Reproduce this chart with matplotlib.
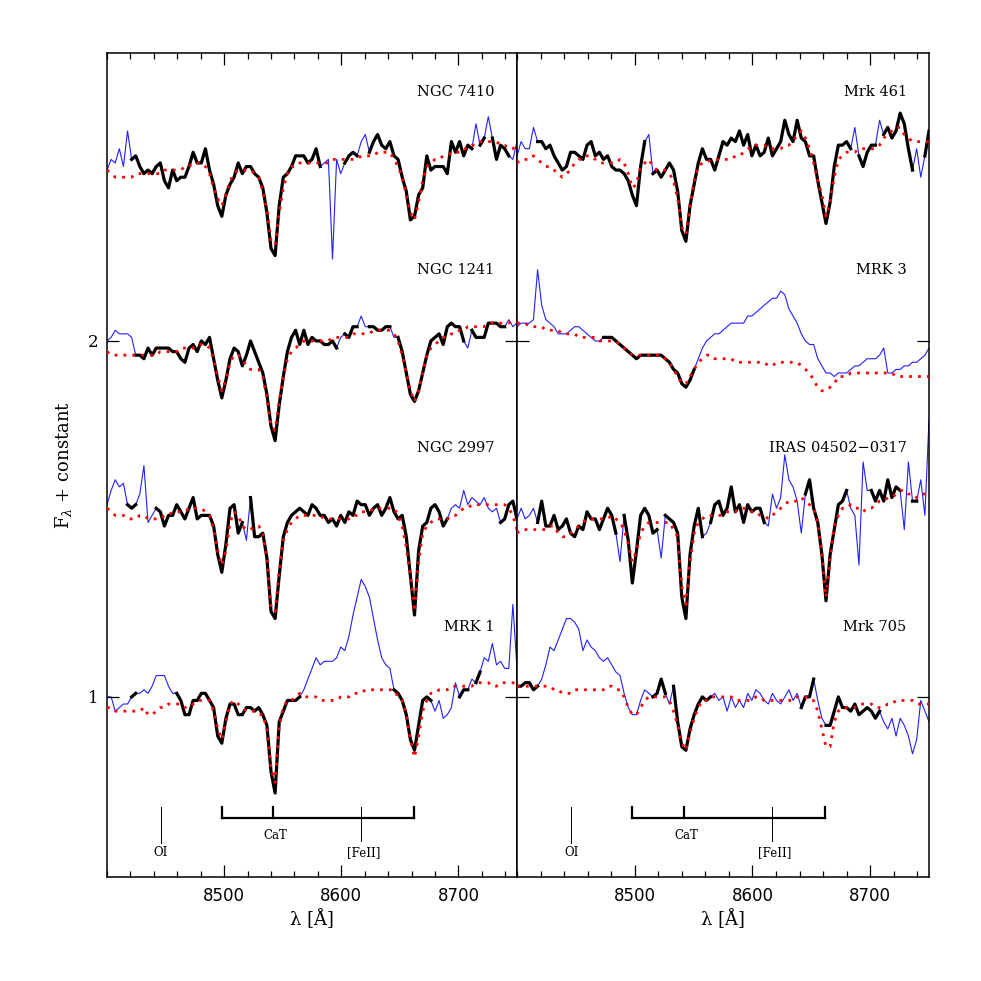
import numpy as np
import matplotlib
matplotlib.use("Agg")
import matplotlib.pyplot as plt
from matplotlib.ticker import MultipleLocator, FixedLocator

plt.rcParams['mathtext.fontset'] = 'dejavuserif'

# common wavelength grid (Angstrom)
wave = np.arange(8400, 8751, 3.5)

# ---- left column ----
ngc7410_obs = np.array([
    2.48, 2.51, 2.50, 2.54, 2.49, 2.59, 2.51, 2.52, 2.49, 2.47,
    2.48, 2.47, 2.49, 2.50, 2.45, 2.43, 2.48, 2.45, 2.46, 2.46,
    2.49, 2.53, 2.50, 2.50, 2.54, 2.48, 2.44, 2.38, 2.35, 2.41,
    2.44, 2.46, 2.50, 2.47, 2.49, 2.49, 2.47, 2.46, 2.43, 2.36,
    2.26, 2.24, 2.38, 2.46, 2.47, 2.49, 2.52, 2.52, 2.52, 2.50,
    2.51, 2.54, 2.49, 2.50, 2.51, 2.23, 2.51, 2.47, 2.50, 2.52,
    2.53, 2.52, 2.56, 2.58, 2.53, 2.56, 2.58, 2.55, 2.54, 2.56,
    2.52, 2.51, 2.46, 2.42, 2.34, 2.35, 2.41, 2.43, 2.52, 2.48,
    2.49, 2.49, 2.49, 2.47, 2.56, 2.53, 2.56, 2.52, 2.55, 2.54,
    2.61, 2.55, 2.57, 2.63, 2.57, 2.51, 2.55, 2.54, 2.52, 2.51,
    2.56])
ngc7410_fit = np.array([
    2.48, 2.47, 2.46, 2.46, 2.46, 2.46, 2.46, 2.47, 2.47, 2.47,
    2.47, 2.47, 2.47, 2.47, 2.48, 2.48, 2.48, 2.48, 2.48, 2.49,
    2.49, 2.50, 2.50, 2.50, 2.49, 2.47, 2.43, 2.40, 2.38, 2.41,
    2.45, 2.47, 2.48, 2.48, 2.48, 2.48, 2.47, 2.46, 2.42, 2.37,
    2.28, 2.27, 2.36, 2.43, 2.47, 2.49, 2.49, 2.50, 2.50, 2.50,
    2.50, 2.50, 2.50, 2.50, 2.50, 2.51, 2.51, 2.51, 2.51, 2.51,
    2.51, 2.51, 2.52, 2.52, 2.52, 2.52, 2.53, 2.53, 2.53, 2.53,
    2.51, 2.49, 2.46, 2.41, 2.36, 2.34, 2.39, 2.45, 2.49, 2.50,
    2.51, 2.51, 2.52, 2.52, 2.53, 2.53, 2.53, 2.54, 2.54, 2.55,
    2.55, 2.56, 2.56, 2.56, 2.56, 2.56, 2.55, 2.55, 2.54, 2.54,
    2.55])
ngc7410_gaps = [(8400, 8418), (8583, 8602), (8615, 8623), (8713, 8717), (8724, 8727), (8745, 8750)]

ngc1241_obs = np.array([
    2.00, 2.01, 2.03, 2.02, 2.02, 2.02, 2.01, 1.96, 1.96, 1.95,
    1.98, 1.96, 1.98, 1.98, 1.98, 1.98, 1.97, 1.97, 1.95, 1.94,
    1.98, 1.99, 1.97, 2.00, 1.99, 2.01, 1.95, 1.89, 1.84, 1.89,
    1.95, 1.98, 1.97, 1.93, 1.96, 2.00, 1.97, 1.94, 1.91, 1.85,
    1.76, 1.72, 1.82, 1.90, 1.97, 2.01, 2.03, 1.99, 2.03, 1.99,
    2.01, 2.00, 2.00, 1.99, 1.99, 2.00, 1.98, 2.01, 2.02, 2.01,
    2.04, 2.04, 2.07, 2.04, 2.04, 2.04, 2.03, 2.03, 2.04, 2.04,
    2.01, 2.01, 1.97, 1.91, 1.85, 1.83, 1.86, 1.91, 1.96, 2.00,
    2.01, 2.02, 1.99, 2.04, 2.05, 2.04, 2.04, 2.00, 1.98, 2.03,
    2.01, 2.01, 2.01, 2.05, 2.05, 2.05, 2.04, 2.04, 2.06, 2.04,
    2.05])
ngc1241_fit = np.array([
    1.97, 1.96, 1.96, 1.96, 1.96, 1.96, 1.96, 1.96, 1.96, 1.96,
    1.96, 1.96, 1.96, 1.97, 1.97, 1.97, 1.97, 1.97, 1.98, 1.98,
    1.98, 1.98, 1.99, 1.99, 1.99, 1.98, 1.95, 1.90, 1.86, 1.89,
    1.94, 1.96, 1.96, 1.95, 1.93, 1.92, 1.92, 1.92, 1.90, 1.84,
    1.76, 1.75, 1.83, 1.90, 1.95, 1.97, 1.98, 1.99, 2.00, 2.00,
    2.00, 2.00, 2.00, 2.00, 2.00, 2.01, 2.01, 2.01, 2.01, 2.01,
    2.02, 2.02, 2.02, 2.02, 2.02, 2.03, 2.03, 2.03, 2.03, 2.03,
    2.02, 2.00, 1.96, 1.91, 1.86, 1.83, 1.86, 1.91, 1.96, 1.98,
    1.99, 2.00, 2.01, 2.01, 2.02, 2.02, 2.03, 2.03, 2.04, 2.04,
    2.04, 2.04, 2.04, 2.05, 2.05, 2.05, 2.05, 2.05, 2.05, 2.06,
    2.06])
ngc1241_gaps = [(8400, 8422), (8598, 8601), (8615, 8622), (8644, 8648), (8707, 8709), (8740, 8750)]

ngc2997_obs = np.array([
    1.54, 1.58, 1.61, 1.59, 1.60, 1.54, 1.53, 1.54, 1.57, 1.65,
    1.49, 1.51, 1.53, 1.52, 1.48, 1.51, 1.51, 1.54, 1.52, 1.50,
    1.53, 1.56, 1.50, 1.51, 1.51, 1.51, 1.48, 1.40, 1.35, 1.43,
    1.53, 1.54, 1.46, 1.49, 1.44, 1.56, 1.45, 1.45, 1.46, 1.39,
    1.24, 1.22, 1.34, 1.45, 1.49, 1.51, 1.52, 1.53, 1.52, 1.51,
    1.54, 1.53, 1.51, 1.51, 1.49, 1.50, 1.48, 1.51, 1.49, 1.52,
    1.51, 1.55, 1.54, 1.54, 1.51, 1.53, 1.54, 1.51, 1.53, 1.56,
    1.52, 1.50, 1.51, 1.45, 1.34, 1.23, 1.41, 1.48, 1.49, 1.53,
    1.54, 1.52, 1.48, 1.50, 1.53, 1.54, 1.53, 1.58, 1.54, 1.56,
    1.55, 1.54, 1.56, 1.53, 1.52, 1.53, 1.49, 1.50, 1.54, 1.55,
    1.50])
ngc2997_fit = np.array([
    1.53, 1.52, 1.51, 1.51, 1.51, 1.50, 1.50, 1.50, 1.51, 1.51,
    1.50, 1.50, 1.50, 1.50, 1.51, 1.51, 1.52, 1.52, 1.52, 1.52,
    1.53, 1.53, 1.53, 1.53, 1.52, 1.51, 1.47, 1.41, 1.37, 1.41,
    1.49, 1.52, 1.51, 1.48, 1.47, 1.47, 1.48, 1.48, 1.46, 1.39,
    1.25, 1.24, 1.35, 1.44, 1.47, 1.49, 1.50, 1.51, 1.51, 1.51,
    1.51, 1.51, 1.51, 1.50, 1.50, 1.50, 1.50, 1.50, 1.50, 1.50,
    1.51, 1.51, 1.52, 1.52, 1.52, 1.53, 1.53, 1.53, 1.53, 1.53,
    1.53, 1.51, 1.48, 1.42, 1.34, 1.24, 1.38, 1.46, 1.48, 1.49,
    1.50, 1.50, 1.50, 1.50, 1.51, 1.51, 1.52, 1.53, 1.53, 1.54,
    1.54, 1.54, 1.54, 1.54, 1.54, 1.54, 1.54, 1.54, 1.53, 1.51,
    1.47])
ngc2997_gaps = [(8400, 8416), (8426, 8439), (8518, 8520), (8694, 8735)]

mrk1_obs = np.array([
    1.00, 1.00, 0.96, 0.97, 0.98, 0.98, 1.00, 1.01, 1.01, 1.02,
    1.01, 1.03, 1.06, 1.06, 1.06, 1.03, 1.01, 1.01, 0.99, 0.95,
    0.95, 0.99, 0.99, 1.01, 1.01, 0.99, 0.97, 0.89, 0.87, 0.94,
    0.98, 0.98, 0.95, 0.95, 0.97, 0.97, 0.96, 0.97, 0.95, 0.92,
    0.79, 0.73, 0.93, 0.96, 0.99, 0.99, 0.99, 1.00, 1.02, 1.05,
    1.08, 1.11, 1.09, 1.10, 1.10, 1.10, 1.11, 1.14, 1.13, 1.17,
    1.23, 1.28, 1.33, 1.31, 1.28, 1.22, 1.16, 1.11, 1.09, 1.08,
    1.02, 1.01, 0.99, 0.95, 0.88, 0.85, 0.92, 0.99, 1.00, 0.99,
    0.96, 0.99, 0.94, 0.95, 0.97, 1.04, 1.00, 1.02, 1.02, 1.05,
    1.04, 1.07, 1.11, 1.10, 1.15, 1.09, 1.10, 1.08, 1.08, 1.26,
    1.08])
mrk1_fit = np.array([
    0.97, 0.97, 0.96, 0.96, 0.96, 0.96, 0.96, 0.96, 0.96, 0.97,
    0.95, 0.95, 0.96, 0.97, 0.97, 0.98, 0.98, 0.98, 0.98, 0.97,
    0.97, 0.98, 0.99, 0.99, 0.99, 0.99, 0.96, 0.91, 0.88, 0.93,
    0.98, 0.99, 0.98, 0.97, 0.96, 0.96, 0.96, 0.95, 0.95, 0.91,
    0.80, 0.76, 0.92, 0.97, 0.99, 0.99, 1.00, 1.01, 1.00, 1.00,
    1.00, 1.00, 0.99, 0.99, 0.99, 0.99, 0.99, 1.00, 1.00, 1.00,
    1.01, 1.01, 1.01, 1.02, 1.02, 1.02, 1.02, 1.02, 1.02, 1.02,
    1.02, 1.00, 0.99, 0.95, 0.88, 0.83, 0.89, 0.96, 0.99, 1.01,
    1.01, 1.02, 1.02, 1.02, 1.03, 1.03, 1.03, 1.03, 1.03, 1.03,
    1.04, 1.04, 1.04, 1.04, 1.03, 1.03, 1.04, 1.04, 1.04, 1.04,
    1.03])
mrk1_gaps = [(8400, 8420), (8428, 8458), (8565, 8643), (8679, 8700.5), (8709, 8714), (8720, 8750)]

# ---- right column ----
mrk461_obs = np.array([
    2.52, 2.56, 2.54, 2.54, 2.60, 2.56, 2.56, 2.54, 2.55, 2.52,
    2.50, 2.48, 2.49, 2.53, 2.53, 2.52, 2.51, 2.55, 2.56, 2.52,
    2.53, 2.51, 2.52, 2.49, 2.48, 2.48, 2.47, 2.45, 2.41, 2.38,
    2.49, 2.56, 2.58, 2.47, 2.48, 2.46, 2.48, 2.50, 2.48, 2.42,
    2.31, 2.28, 2.38, 2.44, 2.50, 2.54, 2.51, 2.51, 2.48, 2.52,
    2.56, 2.55, 2.57, 2.56, 2.59, 2.55, 2.58, 2.52, 2.55, 2.52,
    2.53, 2.57, 2.52, 2.54, 2.56, 2.62, 2.58, 2.56, 2.62, 2.57,
    2.56, 2.52, 2.52, 2.45, 2.39, 2.33, 2.39, 2.49, 2.55, 2.55,
    2.56, 2.54, 2.60, 2.52, 2.49, 2.53, 2.55, 2.55, 2.62, 2.58,
    2.60, 2.57, 2.59, 2.64, 2.61, 2.54, 2.48, 2.54, 2.46, 2.52,
    2.59])
mrk461_fit = np.array([
    2.50, 2.51, 2.51, 2.51, 2.52, 2.51, 2.50, 2.49, 2.49, 2.48,
    2.47, 2.46, 2.47, 2.48, 2.50, 2.51, 2.51, 2.52, 2.52, 2.51,
    2.50, 2.50, 2.50, 2.50, 2.50, 2.51, 2.50, 2.47, 2.43, 2.44,
    2.49, 2.50, 2.51, 2.49, 2.48, 2.48, 2.48, 2.47, 2.45, 2.40,
    2.32, 2.30, 2.38, 2.45, 2.49, 2.50, 2.50, 2.51, 2.51, 2.51,
    2.51, 2.51, 2.51, 2.52, 2.52, 2.53, 2.54, 2.54, 2.55, 2.55,
    2.55, 2.54, 2.54, 2.54, 2.54, 2.55, 2.55, 2.56, 2.58, 2.59,
    2.57, 2.54, 2.50, 2.45, 2.41, 2.35, 2.39, 2.46, 2.51, 2.52,
    2.53, 2.53, 2.53, 2.54, 2.54, 2.54, 2.54, 2.54, 2.55, 2.57,
    2.58, 2.59, 2.60, 2.60, 2.58, 2.57, 2.56, 2.56, 2.56, 2.56,
    2.56])
mrk461_gaps = [(8400, 8416), (8510, 8514), (8686, 8689), (8706, 8709), (8738, 8745)]

mrk3_obs = np.array([
    2.04, 2.05, 2.05, 2.05, 2.06, 2.20, 2.10, 2.06, 2.05, 2.04,
    2.02, 2.02, 2.02, 2.03, 2.04, 2.04, 2.03, 2.02, 2.01, 2.00,
    2.00, 2.01, 2.01, 2.01, 2.00, 1.99, 1.98, 1.97, 1.96, 1.95,
    1.96, 1.96, 1.96, 1.96, 1.96, 1.96, 1.95, 1.94, 1.92, 1.91,
    1.88, 1.87, 1.89, 1.92, 1.95, 1.98, 2.00, 2.01, 2.02, 2.02,
    2.03, 2.04, 2.05, 2.05, 2.05, 2.05, 2.07, 2.07, 2.08, 2.09,
    2.10, 2.11, 2.12, 2.12, 2.14, 2.13, 2.09, 2.07, 2.05, 2.02,
    2.00, 1.99, 1.99, 1.95, 1.93, 1.91, 1.91, 1.90, 1.91, 1.91,
    1.91, 1.92, 1.93, 1.93, 1.94, 1.95, 1.95, 1.95, 1.96, 1.98,
    1.91, 1.91, 1.92, 1.92, 1.93, 1.93, 1.94, 1.94, 1.95, 1.96,
    1.98])
mrk3_fit = np.array([
    2.05, 2.05, 2.05, 2.04, 2.04, 2.04, 2.04, 2.03, 2.03, 2.03,
    2.03, 2.02, 2.02, 2.02, 2.02, 2.01, 2.01, 2.01, 2.01, 2.01,
    2.00, 2.00, 2.00, 2.00, 2.00, 1.99, 1.98, 1.97, 1.96, 1.96,
    1.96, 1.96, 1.96, 1.96, 1.96, 1.96, 1.95, 1.94, 1.92, 1.90,
    1.88, 1.88, 1.90, 1.92, 1.94, 1.95, 1.96, 1.96, 1.95, 1.95,
    1.95, 1.95, 1.95, 1.94, 1.94, 1.94, 1.94, 1.94, 1.94, 1.94,
    1.94, 1.93, 1.93, 1.94, 1.94, 1.94, 1.94, 1.94, 1.94, 1.93,
    1.92, 1.91, 1.89, 1.87, 1.86, 1.86, 1.87, 1.88, 1.90, 1.90,
    1.90, 1.91, 1.91, 1.91, 1.91, 1.91, 1.91, 1.91, 1.91, 1.91,
    1.91, 1.91, 1.90, 1.90, 1.90, 1.90, 1.90, 1.90, 1.90, 1.90,
    1.90])
mrk3_gaps = [(8400, 8471), (8553, 8750)]

iras_obs = np.array([
    1.50, 1.53, 1.50, 1.51, 1.53, 1.49, 1.55, 1.48, 1.48, 1.51,
    1.47, 1.48, 1.50, 1.46, 1.45, 1.48, 1.47, 1.52, 1.50, 1.50,
    1.47, 1.50, 1.53, 1.51, 1.46, 1.38, 1.51, 1.44, 1.32, 1.41,
    1.51, 1.53, 1.51, 1.46, 1.47, 1.39, 1.51, 1.50, 1.49, 1.46,
    1.28, 1.22, 1.40, 1.48, 1.53, 1.45, 1.46, 1.49, 1.54, 1.55,
    1.51, 1.53, 1.59, 1.52, 1.54, 1.49, 1.54, 1.52, 1.53, 1.53,
    1.49, 1.48, 1.57, 1.53, 1.56, 1.68, 1.61, 1.59, 1.55, 1.46,
    1.57, 1.61, 1.53, 1.49, 1.40, 1.27, 1.40, 1.47, 1.54, 1.55,
    1.58, 1.53, 1.51, 1.37, 1.66, 1.58, 1.58, 1.55, 1.58, 1.55,
    1.61, 1.56, 1.59, 1.58, 1.47, 1.66, 1.55, 1.55, 1.61, 1.51,
    1.78])
iras_fit = np.array([
    1.46, 1.47, 1.47, 1.47, 1.47, 1.47, 1.47, 1.47, 1.48, 1.48,
    1.46, 1.45, 1.45, 1.46, 1.47, 1.48, 1.49, 1.50, 1.50, 1.50,
    1.50, 1.50, 1.50, 1.51, 1.50, 1.49, 1.47, 1.43, 1.38, 1.41,
    1.46, 1.48, 1.49, 1.49, 1.49, 1.49, 1.49, 1.49, 1.47, 1.45,
    1.31, 1.26, 1.38, 1.46, 1.49, 1.50, 1.51, 1.51, 1.51, 1.51,
    1.51, 1.52, 1.52, 1.52, 1.53, 1.53, 1.53, 1.52, 1.52, 1.51,
    1.51, 1.50, 1.51, 1.52, 1.53, 1.54, 1.55, 1.55, 1.55, 1.56,
    1.55, 1.54, 1.53, 1.49, 1.40, 1.28, 1.39, 1.48, 1.51, 1.53,
    1.53, 1.54, 1.53, 1.53, 1.52, 1.53, 1.53, 1.54, 1.55, 1.55,
    1.56, 1.56, 1.57, 1.58, 1.58, 1.57, 1.57, 1.56, 1.57, 1.57,
    1.56])
iras_gaps = [(8400, 8417), (8485, 8489), (8521, 8524), (8559, 8562), (8612, 8643),
             (8683, 8699), (8727, 8734), (8740, 8750)]

mrk705_obs = np.array([
    1.03, 1.03, 1.04, 1.04, 1.02, 1.03, 1.05, 1.09, 1.14, 1.13,
    1.16, 1.19, 1.22, 1.22, 1.21, 1.19, 1.13, 1.16, 1.14, 1.13,
    1.11, 1.10, 1.11, 1.09, 1.07, 1.06, 1.01, 0.97, 0.95, 0.95,
    0.99, 1.02, 1.01, 1.00, 1.01, 1.05, 1.01, 0.98, 1.03, 0.93,
    0.86, 0.85, 0.91, 0.95, 0.98, 1.00, 0.99, 1.00, 1.01, 0.99,
    1.00, 0.96, 1.00, 0.97, 0.99, 0.97, 1.01, 0.99, 1.02, 1.01,
    0.99, 0.98, 1.01, 0.99, 0.98, 1.00, 1.02, 0.99, 1.01, 0.97,
    1.00, 1.00, 1.05, 0.99, 0.94, 0.92, 0.92, 0.96, 1.00, 0.97,
    0.97, 0.96, 0.98, 0.95, 0.96, 0.97, 0.96, 0.94, 0.96, 0.93,
    0.91, 0.94, 0.89, 0.94, 0.92, 0.89, 0.84, 0.88, 0.99, 0.96,
    0.93])
mrk705_fit = np.array([
    1.03, 1.03, 1.03, 1.03, 1.03, 1.03, 1.03, 1.03, 1.03, 1.02,
    1.02, 1.01, 1.01, 1.01, 1.02, 1.02, 1.02, 1.02, 1.02, 1.02,
    1.02, 1.02, 1.03, 1.03, 1.02, 1.02, 1.00, 0.97, 0.95, 0.95,
    0.97, 0.99, 1.00, 1.00, 1.00, 1.00, 1.00, 0.99, 0.96, 0.92,
    0.87, 0.85, 0.90, 0.94, 0.97, 0.99, 0.99, 1.00, 1.00, 1.00,
    1.00, 1.00, 1.00, 0.99, 0.99, 0.99, 0.99, 0.99, 1.00, 1.00,
    0.99, 0.99, 0.99, 0.99, 0.99, 0.99, 0.99, 0.99, 1.00, 1.00,
    1.00, 0.99, 0.99, 0.96, 0.91, 0.86, 0.86, 0.93, 0.96, 0.97,
    0.97, 0.97, 0.97, 0.98, 0.98, 0.98, 0.98, 0.97, 0.97, 0.97,
    0.98, 0.98, 0.99, 0.99, 0.99, 0.99, 0.99, 0.98, 0.98, 0.98,
    0.98])
mrk705_gaps = [(8419, 8515), (8529, 8530), (8565, 8641), (8655, 8662), (8709, 8750)]

left_names = ['NGC 7410', 'NGC 1241', 'NGC 2997', 'MRK 1']
right_names = ['Mrk 461', 'MRK 3', 'IRAS 04502\u22120317', 'Mrk 705']
name_y = [2.70, 2.20, 1.70, 1.195]

# line identifications
oi_wave = 8446
cat_waves = [8498, 8542, 8662]
feii_wave = 8617


def fitted_part(flux, gaps):
    out = flux.copy()
    for lo, hi in gaps:
        out[(wave >= lo) & (wave <= hi)] = np.nan
    return out


fig = plt.figure(figsize=(9.81, 9.81), dpi=100)
ax1 = fig.add_axes([0.1091, 0.106, 0.4179, 0.840])
ax2 = fig.add_axes([0.5270, 0.106, 0.4200, 0.840])

panels = [
    (ax1, left_names, [(ngc7410_obs, ngc7410_fit, ngc7410_gaps),
                       (ngc1241_obs, ngc1241_fit, ngc1241_gaps),
                       (ngc2997_obs, ngc2997_fit, ngc2997_gaps),
                       (mrk1_obs, mrk1_fit, mrk1_gaps)]),
    (ax2, right_names, [(mrk461_obs, mrk461_fit, mrk461_gaps),
                        (mrk3_obs, mrk3_fit, mrk3_gaps),
                        (iras_obs, iras_fit, iras_gaps),
                        (mrk705_obs, mrk705_fit, mrk705_gaps)]),
]

for ax, names, spectra in panels:
    for (obs, fit, gaps), name, yl in zip(spectra, names, name_y):
        ax.plot(wave, obs, color='#2020ff', lw=0.8, zorder=1)
        ax.plot(wave, fitted_part(obs, gaps), color='black', lw=2.3, zorder=2,
                solid_joinstyle='round')
        ax.plot(wave, fit, color='red', lw=2.0, ls=(0, (1, 2.2)), zorder=3)
        ax.text(8731, yl, name, ha='right', va='center', family='DejaVu Serif', fontsize=10.5)

    # OI, CaT and [FeII] markers
    ax.plot([oi_wave, oi_wave], [0.59, 0.69], color='black', lw=0.7)
    ax.plot([feii_wave, feii_wave], [0.594, 0.692], color='black', lw=0.7)
    ax.plot([cat_waves[0], cat_waves[-1]], [0.659, 0.659], color='black', lw=1.6)
    for cw in cat_waves:
        ax.plot([cw, cw], [0.659, 0.692], color='black', lw=1.6)
    ax.text(oi_wave, 0.562, 'OI', ha='center', va='center', family='DejaVu Serif', fontsize=8.5)
    ax.text(8544, 0.612, 'CaT', ha='center', va='center', family='DejaVu Serif', fontsize=8.5)
    ax.text(8619, 0.562, '[FeII]', ha='center', va='center', family='DejaVu Serif', fontsize=8.5)

    ax.set_xlim(8400, 8750)
    ax.set_ylim(0.494, 2.809)
    ax.xaxis.set_major_locator(FixedLocator([8500, 8600, 8700]))
    ax.xaxis.set_minor_locator(MultipleLocator(20))
    ax.set_yticks([1, 2])
    ax.tick_params(which='both', direction='in', top=True, right=True, width=0.9)
    ax.tick_params(which='major', length=8.5, labelsize=12, pad=7)
    ax.tick_params(which='minor', length=4.3)
    ax.set_xlabel('λ [Å]', family='DejaVu Serif', fontsize=13, labelpad=3)
    for s in ax.spines.values():
        s.set_linewidth(1.1)

for lab in ax1.get_yticklabels():
    lab.set_family('DejaVu Serif')
ax1.tick_params(axis='y', labelsize=12, pad=6)
ax1.set_ylabel(r'F$_\lambda$ + constant', family='DejaVu Serif', fontsize=13, labelpad=10)
ax2.tick_params(axis='y', labelleft=False)

fig.savefig('out.png', dpi=100)
